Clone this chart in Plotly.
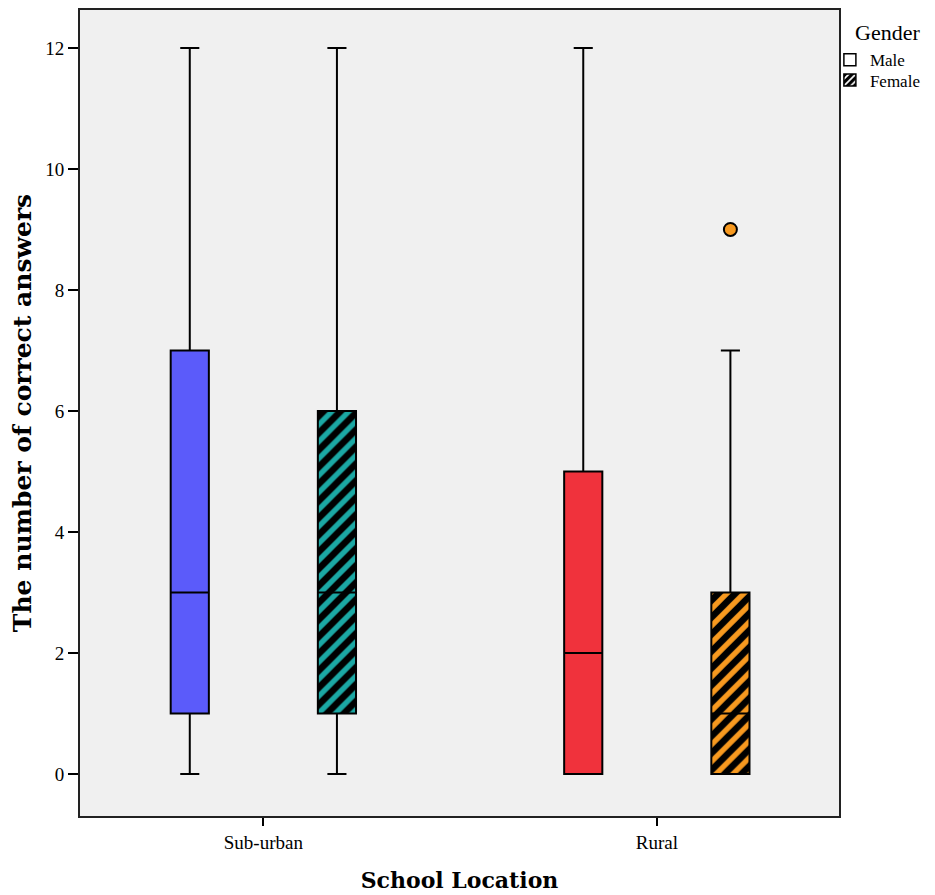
import plotly.graph_objects as go

# box statistics
locations = ["Sub-urban", "Rural"]

male_lower = [0, 0]
male_q1 = [1, 0]
male_median = [3, 2]
male_q3 = [7, 5]
male_upper = [12, 12]

female_lower = [0, 0]
female_q1 = [1, 0]
female_median = [3, 1]
female_q3 = [6, 3]
female_upper = [12, 7]

# outliers (location index, value)
female_outlier_loc = [1]
female_outlier_val = [9]

male_colors = ["#5B5BFA", "#F0323C"]
female_colors = ["#1BA8A4", "#F7991F"]

offset = 0.187
box_w = 0.097
serif = "Liberation Serif"
bold_font = "DejaVu Serif"

fig = go.Figure()

for i, loc in enumerate(locations):
  xf = i + offset
  # hatched fill for the female box (box traces have no pattern fill)
  fig.add_trace(
    go.Bar(
        x=[xf],
        y=[female_q3[i] - female_q1[i]],
        base=[female_q1[i]],
        width=box_w,
        marker=dict(color=female_colors[i],
                    line=dict(width=0),
                    pattern=dict(shape="/", fgcolor="black",
                                 bgcolor=female_colors[i],
                                 fillmode="replace",
                                 size=12, solidity=0.55)),
        showlegend=False,
        hoverinfo="skip"
    )
  )

for i, loc in enumerate(locations):
  xm = i - offset
  xf = i + offset

  fig.add_trace(
    go.Box(
        x=[xm],
        q1=[male_q1[i]], median=[male_median[i]], q3=[male_q3[i]],
        lowerfence=[male_lower[i]], upperfence=[male_upper[i]],
        width=box_w,
        whiskerwidth=0.5,
        fillcolor=male_colors[i],
        line=dict(color="black", width=2),
        showlegend=False,
        name="Male " + loc
    )
  )

  fig.add_trace(
    go.Box(
        x=[xf],
        q1=[female_q1[i]], median=[female_median[i]], q3=[female_q3[i]],
        lowerfence=[female_lower[i]], upperfence=[female_upper[i]],
        width=box_w,
        whiskerwidth=0.5,
        fillcolor="rgba(0,0,0,0)",
        line=dict(color="black", width=2),
        showlegend=False,
        name="Female " + loc
    )
  )

# outlier points
fig.add_trace(
  go.Scatter(
      x=[l + offset for l in female_outlier_loc],
      y=female_outlier_val,
      mode="markers",
      marker=dict(size=13, color=[female_colors[l] for l in female_outlier_loc],
                  line=dict(color="black", width=2)),
      showlegend=False
  )
)

# legend entries (one legend each, so they can sit close together)
fig.add_trace(
  go.Bar(x=[None], y=[None], name="Male", legend="legend",
         marker=dict(color="white", line=dict(color="black", width=1.5)))
)
fig.add_trace(
  go.Bar(x=[None], y=[None], name="Female", legend="legend2",
         marker=dict(color="black", line=dict(color="black", width=1.5),
                     pattern=dict(shape="/", fgcolor="white", bgcolor="black",
                                  fillmode="replace", size=6, solidity=0.35)))
)

fig.add_annotation(
  text="Gender", xref="paper", yref="paper", x=1.018, y=0.972,
  xanchor="left", yanchor="middle", showarrow=False,
  font=dict(family=serif, size=22)
)

legend_style = dict(
  xanchor="left", yanchor="top",
  font=dict(size=17, family=serif),
  bgcolor="rgba(0,0,0,0)",
  itemwidth=30
)

fig.update_layout(
  width=927, height=887,
  margin=dict(l=69, r=96, t=0, b=79),
  paper_bgcolor="white",
  plot_bgcolor="#F0F0F0",
  barmode="overlay",
  font=dict(family=serif, size=19, color="black"),
  legend=dict(x=0.988, y=0.96, **legend_style),
  legend2=dict(x=0.988, y=0.935, **legend_style),
  xaxis=dict(
      range=[-0.466, 1.463],
      tickvals=list(range(len(locations))),
      ticktext=locations,
      ticks="outside", ticklen=8, tickwidth=1.5, tickcolor="black",
      showgrid=False, zeroline=False,
      showline=True, mirror=True, linecolor="#222222", linewidth=2,
      title=dict(text="<b>School Location</b>", standoff=21,
                 font=dict(family=bold_font, size=22))
  ),
  yaxis=dict(
      range=[-0.692, 12.626],
      tickvals=[0, 2, 4, 6, 8, 10, 12],
      ticks="outside", ticklen=10, tickwidth=1.5, tickcolor="black",
      showgrid=False, zeroline=False,
      showline=True, mirror=True, linecolor="#222222", linewidth=2,
      title=dict(text="<b>The number of correct answers</b>", standoff=20,
                 font=dict(family=bold_font, size=25))
  )
)

fig.write_html("out.html")
